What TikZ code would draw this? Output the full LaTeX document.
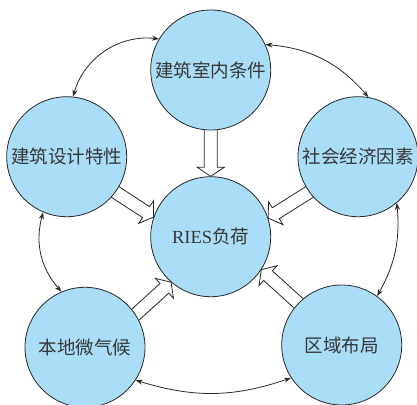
\documentclass[tikz,border=0pt]{standalone}
\usepackage{fontspec}
\setmainfont{Liberation Serif}
\newfontfamily\cjk{Noto Sans CJK SC}
\usetikzlibrary{calc,arrows.meta,backgrounds}
\definecolor{bubblefill}{RGB}{170,222,248}
\definecolor{ink}{RGB}{40,40,40}
\definecolor{txt}{RGB}{55,55,55}
\tikzset{
  bubble/.style={circle, draw=ink, line width=0.8pt, fill=bubblefill,
    minimum size=120pt, inner sep=0pt, text=txt,
    font=\fontsize{18.5}{20}\selectfont\cjk},
  link/.style={draw=ink, line width=0.8pt,
    {Stealth[length=7pt,width=5pt]}-{Stealth[length=7pt,width=5pt]}},
  hollow/.style={draw=ink, line width=0.8pt, fill=white, line join=miter},
}
\newcommand\hollowarrow[2]{%
  \coordinate (hb) at ($(#2)!9pt!(#1)$);
  \draw[hollow] ($(#1)!6.5pt!90:(#2)$) -- ($(hb)!6.5pt!-90:(#1)$)
    -- ($(hb)!13.5pt!-90:(#1)$) -- (#2) -- ($(hb)!13.5pt!90:(#1)$)
    -- ($(hb)!6.5pt!90:(#1)$) -- ($(#1)!6.5pt!-90:(#2)$) -- cycle;}
\begin{document}
\begin{tikzpicture}[x=1pt,y=1pt]
\useasboundingbox (0,0) rectangle (417,-404);
\node[bubble] (top) at (210.7,-70) {建筑室内条件};
\node[bubble] (c)   at (210.7,-236.7) {{\rmfamily RIES}负荷};
\node[bubble] (l)   at (66.7,-156.7) {建筑设计特性};
\node[bubble] (r)   at (358,-156.7) {社会经济因素};
\node[bubble] (bl)  at (85,-347.3) {本地微气候};
\node[bubble] (br)  at (341.7,-345) {区域布局};

\begin{scope}[on background layer]
  \coordinate (s1) at ($(top.south)!-5pt!(c.north)$);
  \coordinate (t1) at (c.north);
  \hollowarrow{s1}{t1}
  \coordinate (s2) at ($(l.-36)!-5pt!(c.161)$);
  \coordinate (t2) at (c.161);
  \hollowarrow{s2}{t2}
  \coordinate (s3) at ($(r.216)!-5pt!(c.18.5)$);
  \coordinate (t3) at (c.18.5);
  \hollowarrow{s3}{t3}
  \coordinate (s4) at ($(bl.33)!-5pt!(c.229.7)$);
  \coordinate (t4) at (c.229.7);
  \hollowarrow{s4}{t4}
  \coordinate (s5) at ($(br.136)!-5pt!(c.-33)$);
  \coordinate (t5) at (c.-33);
  \hollowarrow{s5}{t5}
\end{scope}

\draw[link] (top.149) to[bend right=40] (l.84.5);
\draw[link] (top.25.7) to[bend left=22] (r.80.7);
\draw[link] (l.247.7) to[bend right=28] (bl.113);
\draw[link] (r.-50) to[bend left=17] (br.54);
\draw[link] (bl.-33) to[bend right=18] (br.213);
\end{tikzpicture}
\end{document}
